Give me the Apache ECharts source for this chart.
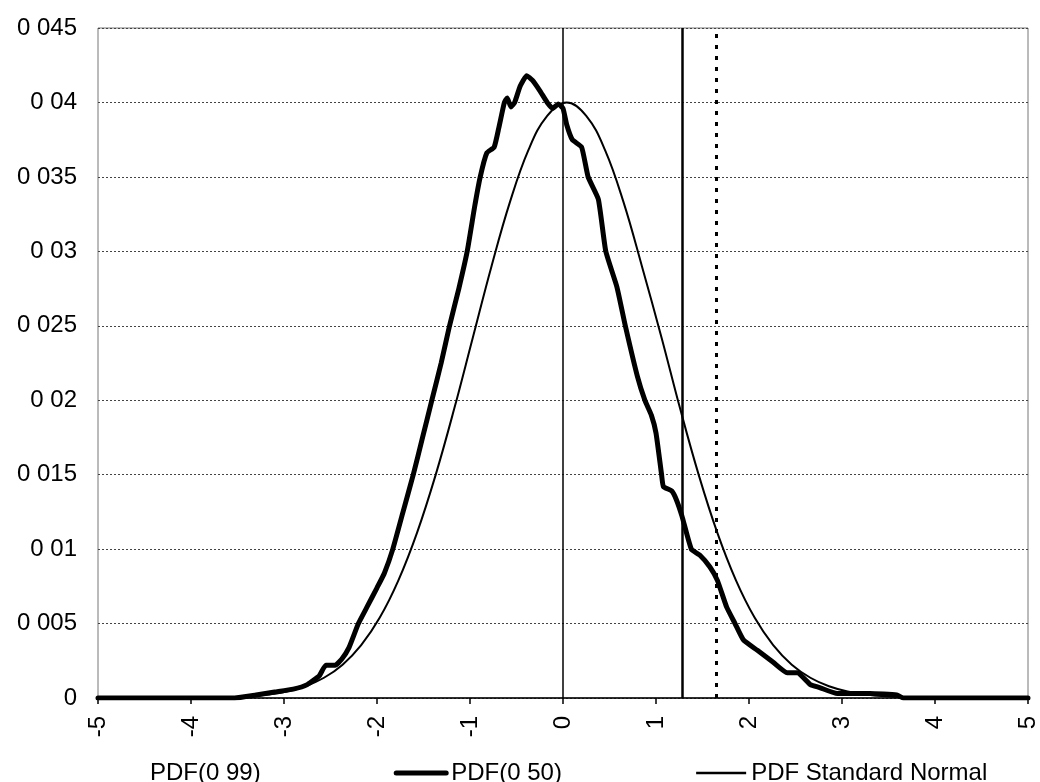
<!DOCTYPE html>
<html>
<head>
<meta charset="utf-8">
<script src="https://cdn.jsdelivr.net/npm/echarts@6/dist/echarts.min.js"></script>
<style>
html,body{margin:0;padding:0;background:#fff;}
#chart{width:1040px;height:782px;}
</style>
</head>
<body>
<div id="chart"></div>
<script>
// ---- data ----
const seriesNames = ['PDF(0 99)', 'PDF(0 50)', 'PDF Standard Normal'];

const xTickLabels = ['-5','-4','-3','-2','-1','0','1','2','3','4','5'];
const yTickLabels = ['0','0 005','0 01','0 015','0 02','0 025','0 03','0 035','0 04','0 045'];

// PDF(0 50) – thick empirical curve
const p50X = [-5.0,-4.0,-3.53,-3.3,-3.1,-2.9,-2.75,-2.62,-2.55,-2.45,-2.38,-2.3,-2.2,-2.1,-2.0,-1.92,-1.83,-1.72,-1.61,-1.51,-1.41,-1.31,-1.22,-1.12,-1.03,-0.95,-0.89,-0.82,-0.74,-0.69,-0.63,-0.60,-0.56,-0.52,-0.46,-0.39,-0.33,-0.25,-0.17,-0.11,-0.05,0.00,0.04,0.10,0.20,0.27,0.38,0.46,0.58,0.67,0.80,0.88,0.95,1.00,1.06,1.08,1.17,1.22,1.28,1.38,1.47,1.58,1.66,1.76,1.85,1.94,2.09,2.26,2.41,2.52,2.66,2.76,2.95,3.30,3.59,3.66,5.0];
const p50Y = [0,0,0,0.0002,0.0004,0.0006,0.0009,0.0015,0.0022,0.0022,0.0026,0.0034,0.0050,0.0062,0.0074,0.0084,0.0100,0.0125,0.0150,0.0175,0.0200,0.0225,0.0250,0.0275,0.0300,0.0330,0.0350,0.0366,0.0370,0.0383,0.0400,0.0403,0.0397,0.0400,0.0411,0.0418,0.0415,0.0408,0.0400,0.0396,0.0399,0.0396,0.0385,0.0375,0.0370,0.0350,0.0335,0.0300,0.0276,0.0250,0.0216,0.0200,0.0190,0.0178,0.0150,0.0142,0.0139,0.0133,0.0122,0.0100,0.0096,0.0088,0.0079,0.0061,0.0050,0.0039,0.0032,0.0024,0.0017,0.0017,0.0009,0.0007,0.0003,0.0003,0.0002,0,0];

// PDF Standard Normal – thin curve
const normX = [-5.0,-3.97,-3.77,-3.57,-3.37,-3.17,-2.97,-2.77,-2.57,-2.37,-2.17,-1.97,-1.77,-1.57,-1.37,-1.17,-0.97,-0.77,-0.57,-0.37,-0.17,0.04,0.25,0.45,0.65,0.85,1.06,1.26,1.46,1.66,1.86,2.06,2.26,2.46,2.66,2.86,3.06,3.26,3.46,3.66,3.86,4.06,5.0];
const normY = [0,0.00001,0.00003,0.00006,0.00012,0.00024,0.00044,0.00079,0.00136,0.00224,0.00355,0.0054,0.0079,0.01109,0.01497,0.01942,0.0242,0.02897,0.03332,0.03683,0.0391,0.0400,0.0391,0.03683,0.03332,0.02897,0.0242,0.01942,0.01497,0.01109,0.0079,0.0054,0.00355,0.00224,0.00136,0.00079,0.00044,0.00024,0.00012,0.00006,0.00003,0.00001,0];

// vertical reference lines
const zeroLineX = 0;
const q90X = 1.28;
const q99X = 1.645;

// ---- chart ----
const FONT = 'Liberation Sans, Arial, sans-serif';
const zip = (xs, ys) => xs.map((x, i) => [x, ys[i]]);

const chart = echarts.init(document.getElementById('chart'), null, {renderer: 'canvas'});
chart.setOption({
  animation: false,
  backgroundColor: '#fff',
  grid: {left: 98, right: 12, top: 28, bottom: 84, show: true, borderColor: '#777', borderWidth: 1},
  xAxis: {
    type: 'value', min: -5, max: 5, interval: 1,
    axisLine: {show: true, onZero: false, lineStyle: {color: '#000', width: 1.5}},
    axisTick: {show: true, inside: false, length: 6, lineStyle: {color: '#000', width: 1.5}},
    splitLine: {show: false},
    axisLabel: {
      rotate: 90, margin: 18, color: '#000', fontSize: 24, fontFamily: FONT,
      formatter: v => xTickLabels[Math.round(v) + 5]
    }
  },
  yAxis: {
    type: 'value', min: 0, max: 0.045, interval: 0.005,
    axisLine: {show: false},
    axisTick: {show: false},
    splitLine: {show: true, lineStyle: {color: '#444', width: 1, type: [2, 2]}},
    axisLabel: {
      margin: 21, color: '#000', fontSize: 24, fontFamily: FONT,
      formatter: v => yTickLabels[Math.round(v / 0.005)]
    }
  },
  legend: {
    left: 90, top: 756,
    itemWidth: 50, itemHeight: 14, itemGap: 133,
    itemStyle: {opacity: 0},
    textStyle: {color: '#000', fontSize: 24, fontFamily: FONT},
    data: [
      {name: seriesNames[0], lineStyle: {opacity: 0, width: 0}, itemStyle: {opacity: 0}},
      {name: seriesNames[1], lineStyle: {color: '#000', width: 5}, itemStyle: {opacity: 0}},
      {name: seriesNames[2], lineStyle: {color: '#000', width: 2.5}, itemStyle: {opacity: 0}}
    ]
  },
  series: [
    {
      name: seriesNames[0], type: 'line', data: [], symbol: 'none',
      itemStyle: {color: '#000'},
      lineStyle: {color: '#000', width: 3, type: [4, 7]},
      markLine: {
        silent: true, symbol: 'none', label: {show: false},
        lineStyle: {color: '#000', width: 3, type: [4, 7]},
        data: [{xAxis: q99X}]
      }
    },
    {
      name: seriesNames[1], type: 'line', data: zip(p50X, p50Y), symbol: 'none',
      smooth: 0.15,
      itemStyle: {color: '#000'},
      lineStyle: {color: '#000', width: 5, join: 'round', cap: 'round'},
      z: 3
    },
    {
      name: seriesNames[2], type: 'line', data: zip(normX, normY), symbol: 'none',
      smooth: 0.4,
      itemStyle: {color: '#000'},
      lineStyle: {color: '#000', width: 2},
      z: 4,
      markLine: {
        silent: true, symbol: 'none', label: {show: false},
        data: [
          {xAxis: zeroLineX, lineStyle: {color: '#000', width: 1.5, type: 'solid'}},
          {xAxis: q90X, lineStyle: {color: '#000', width: 2.5, type: 'solid'}}
        ]
      }
    }
  ]
});
</script>
</body>
</html>
